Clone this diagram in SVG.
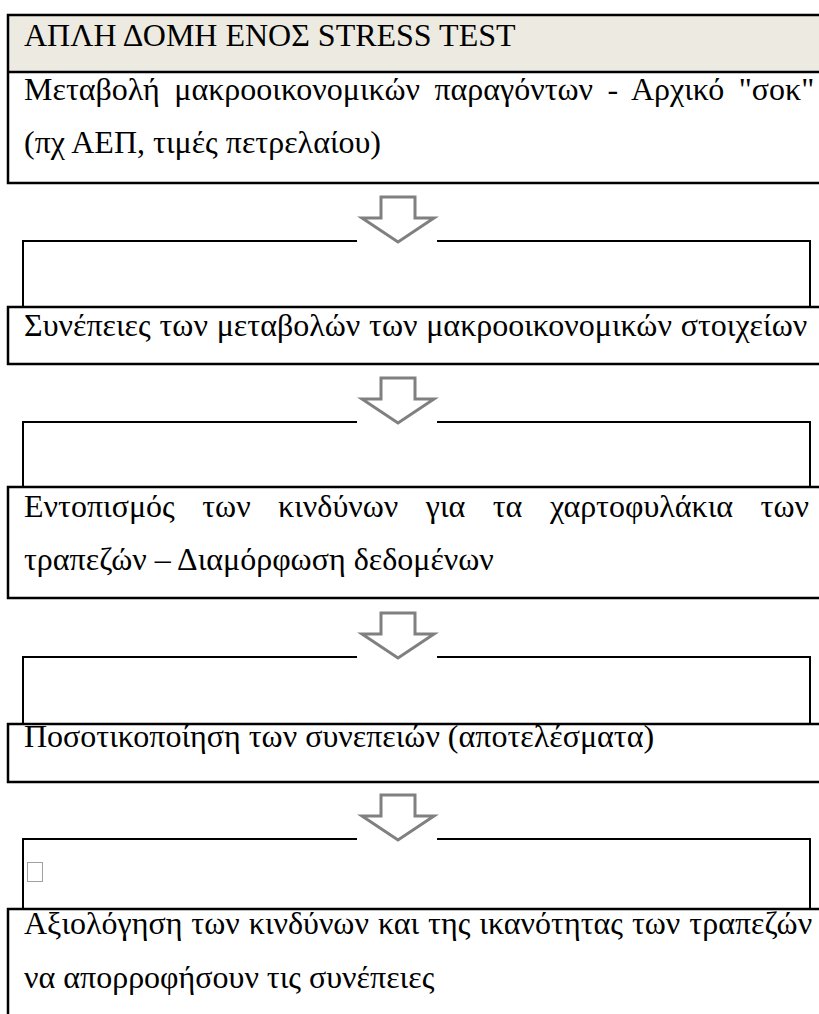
<svg xmlns="http://www.w3.org/2000/svg" width="819" height="1014" viewBox="0 0 819 1014">
<style>
.t{font-family:"Liberation Serif","Times New Roman",serif;font-size:32px;fill:#000}
.b{fill:none;stroke:#000;stroke-width:2.5}
.ib{fill:none;stroke:#000;stroke-width:2}
.ar{fill:#fff;stroke:#808080;stroke-width:3;stroke-linejoin:miter}
</style>
<defs>
<polygon id="arrow" class="ar" points="381,-44 415,-44 415,-23 434,-23 398,1 362,-23 381,-23"/>
</defs>
<rect width="819" height="1014" fill="#fff"/>
<g id="box1">
<rect x="8" y="15" width="811" height="57" fill="#ECEAE1"/>
<path class="b" d="M819,15 H8 V183 H819 M8,72 H819"/>
<text class="t" x="24" y="46">ΑΠΛΗ ΔΟΜΗ ΕΝΟΣ STRESS TEST</text>
<text class="t" x="24" y="100" word-spacing="6.5">Μεταβολή μακροοικονομικών παραγόντων - Αρχικό "σοκ"</text>
<text class="t" x="24" y="153">(πχ ΑΕΠ, τιμές πετρελαίου)</text>
</g>
<g id="spacer1"><path class="ib" d="M23,306 V241 H357 M437,241 H810 V306"/></g>
<g id="box2">
<path class="b" d="M819,307 H8 V364 H819"/>
<text class="t" x="24" y="336" word-spacing="0.8">Συνέπειες των μεταβολών των μακροοικονομικών στοιχείων</text>
</g>
<g id="spacer2"><path class="ib" d="M23,487 V422 H357 M437,422 H810 V487"/></g>
<g id="box3">
<path class="b" d="M819,487 H8 V598 H819"/>
<text class="t" x="24" y="517" word-spacing="19.5">Εντοπισμός των κινδύνων για τα χαρτοφυλάκια των</text>
<text class="t" x="24" y="570">τραπεζών – Διαμόρφωση δεδομένων</text>
</g>
<g id="spacer3"><path class="ib" d="M23,724 V657 H357 M437,657 H810 V724"/></g>
<g id="box4">
<path class="b" d="M819,724 H8 V782 H819"/>
<text class="t" x="24" y="747">Ποσοτικοποίηση των συνεπειών (αποτελέσματα)</text>
</g>
<g id="spacer4">
<path class="ib" d="M23,909 V839 H357 M437,839 H810 V909"/>
<rect x="27.5" y="862.5" width="15" height="19" fill="none" stroke="#a0a0a0" stroke-width="1"/>
</g>
<g id="box5">
<path class="b" d="M819,909 H8 V1014"/>
<text class="t" x="24" y="934" word-spacing="1">Αξιολόγηση των κινδύνων και της ικανότητας των τραπεζών</text>
<text class="t" x="24" y="988">να απορροφήσουν τις συνέπειες</text>
</g>
<g id="connectors">
<use href="#arrow" y="241"/>
<use href="#arrow" y="422"/>
<use href="#arrow" y="657"/>
<use href="#arrow" y="839"/>
</g>
</svg>
